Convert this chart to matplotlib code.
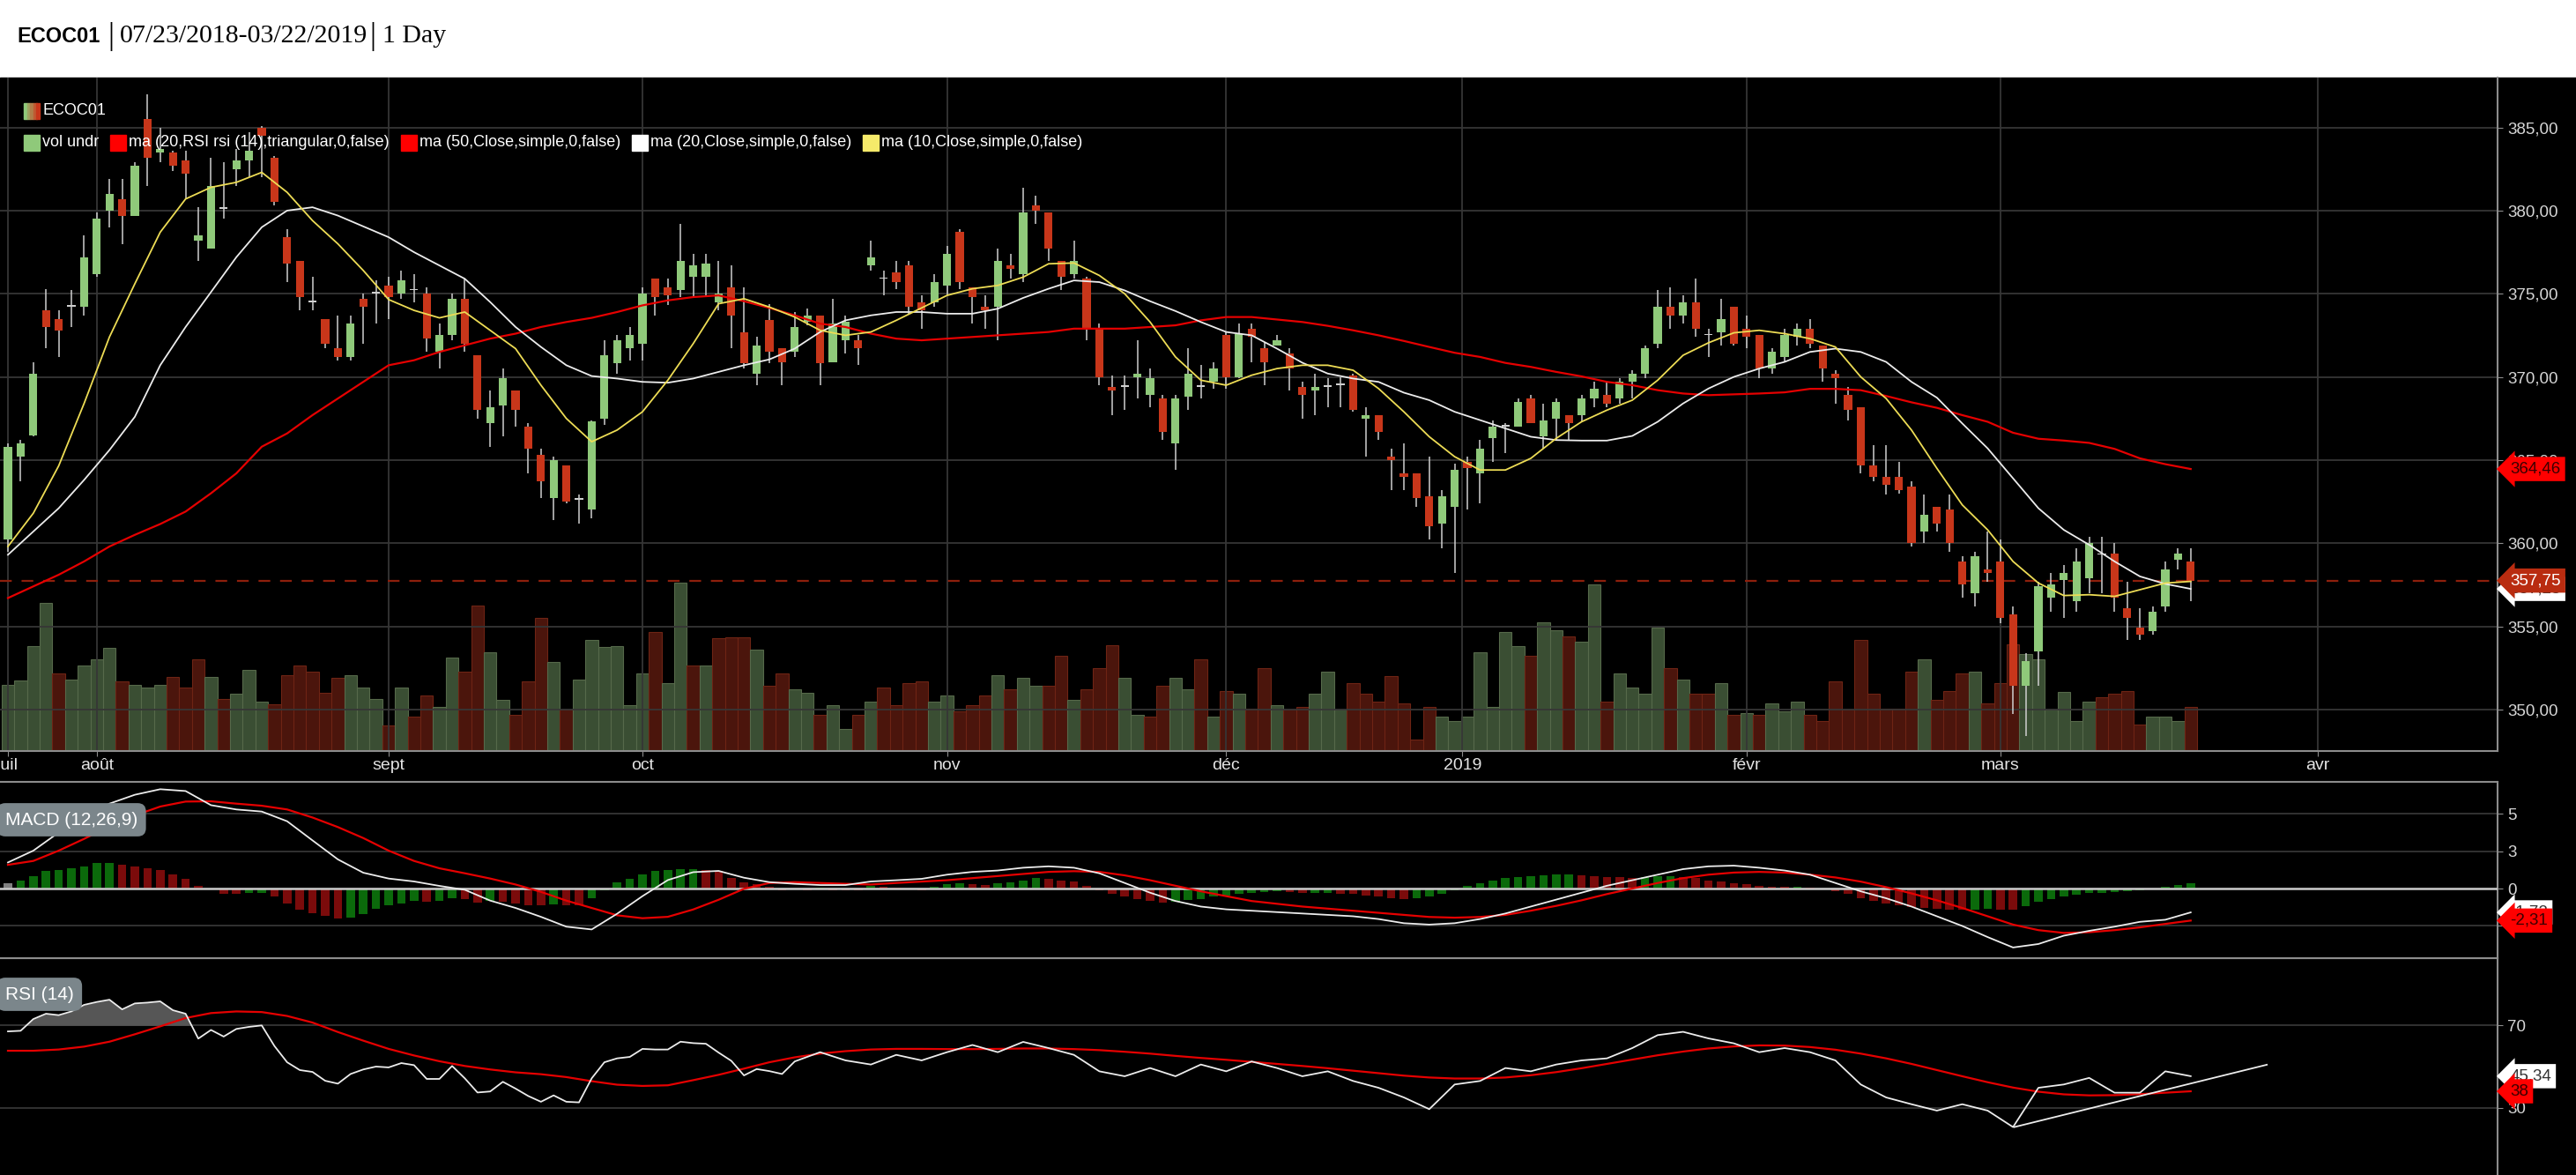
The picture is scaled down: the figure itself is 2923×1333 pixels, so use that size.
import numpy as np
import matplotlib.pyplot as plt
from matplotlib import font_manager
from matplotlib.patches import Rectangle
from matplotlib.transforms import blended_transform_factory

plt.rcParams['font.family'] = ['Liberation Sans', 'DejaVu Sans']

W, H = 2923, 1333

# daily candles, index 0 = 07/23/2018 ... 172 = 03/22/2019
opens = [360.2, 365.2, 366.5, 374.0, 373.5, 374.2, 374.2, 376.2, 380.0, 380.7,
         379.7, 385.5, 383.5, 383.5, 383.0, 378.2, 377.7, 380.1, 382.5, 383.0,
         385.0, 383.2, 378.4, 377.0, 374.5, 373.5, 371.7, 371.2, 374.7, 375.0,
         375.5, 375.0, 375.2, 375.0, 371.5, 372.5, 374.7, 371.3, 367.2, 368.3,
         369.2, 367.0, 365.3, 362.7, 364.7, 362.6, 362.0, 367.5, 370.8, 371.7,
         372.0, 375.9, 375.4, 375.2, 376.0, 376.0, 374.5, 375.4, 372.7, 370.2,
         373.4, 371.7, 371.5, 373.3, 373.7, 370.9, 372.2, 372.2, 376.7, 375.9,
         376.3, 376.7, 374.5, 374.5, 375.5, 378.7, 375.4, 374.2, 374.2, 376.7,
         376.2, 380.3, 379.9, 377.0, 376.2, 375.9, 372.9, 369.4, 369.4, 370.0,
         368.9, 368.7, 366.0, 368.8, 369.4, 369.7, 372.5, 370.0, 372.9, 371.7,
         371.9, 371.4, 369.4, 369.2, 369.4, 369.5, 370.1, 367.5, 367.7, 365.2,
         364.2, 364.2, 362.8, 361.2, 362.2, 364.9, 364.2, 366.3, 367.0, 367.0,
         368.7, 366.4, 367.5, 367.7, 367.7, 368.7, 368.9, 368.7, 369.7, 370.2,
         372.0, 374.2, 373.7, 374.5, 372.5, 372.7, 374.2, 372.9, 372.5, 370.5,
         371.2, 372.4, 372.9, 371.9, 370.2, 368.9, 368.2, 364.7, 364.0, 364.0,
         363.4, 360.7, 362.2, 362.0, 358.9, 357.0, 358.4, 358.9, 355.7, 351.4,
         353.5, 356.7, 357.8, 356.5, 357.9, 359.4, 359.4, 356.1, 354.9, 354.7,
         356.2, 359.0, 358.9]
highs = [366.0, 366.2, 370.9, 375.3, 374.0, 375.2, 378.5, 379.9, 381.9, 381.9,
         382.9, 387.0, 385.0, 383.6, 383.6, 380.2, 383.2, 382.9, 383.7, 384.7,
         385.1, 383.3, 378.9, 377.0, 376.0, 373.5, 373.7, 373.7, 375.0, 375.8,
         376.0, 376.4, 376.2, 375.4, 373.2, 375.0, 375.9, 371.3, 369.2, 370.5,
         369.2, 367.2, 365.7, 365.2, 364.7, 362.9, 367.4, 372.2, 372.5, 373.0,
         375.4, 375.9, 375.9, 379.2, 377.4, 377.4, 377.0, 376.7, 375.4, 372.4,
         374.4, 371.7, 373.9, 374.1, 373.7, 374.7, 373.7, 372.5, 378.2, 376.4,
         377.0, 377.0, 374.9, 376.2, 377.9, 378.9, 375.4, 374.9, 377.7, 377.4,
         381.4, 380.9, 379.9, 377.0, 378.2, 376.0, 373.2, 370.1, 370.1, 372.2,
         370.5, 368.9, 368.9, 371.7, 370.7, 370.9, 372.7, 373.2, 373.2, 372.1,
         372.5, 371.7, 369.7, 370.2, 369.9, 370.0, 370.2, 368.2, 367.7, 365.7,
         366.0, 364.2, 365.2, 363.2, 364.8, 365.2, 366.2, 367.4, 367.2, 368.7,
         368.9, 368.4, 368.7, 367.7, 368.9, 369.7, 369.7, 369.9, 370.4, 371.9,
         375.2, 375.4, 374.9, 375.9, 372.9, 374.7, 374.2, 373.7, 372.5, 371.7,
         372.9, 373.2, 373.5, 371.9, 370.4, 369.4, 368.2, 365.9, 365.9, 364.9,
         363.7, 362.9, 362.2, 362.9, 359.2, 359.5, 360.7, 360.2, 356.2, 353.4,
         357.7, 358.2, 358.7, 359.7, 360.4, 360.4, 360.0, 357.7, 356.1, 356.2,
         358.9, 359.7, 359.7]
lows = [359.5, 363.7, 366.4, 371.7, 371.2, 373.0, 373.7, 376.0, 379.0, 378.0,
        379.7, 381.5, 382.9, 382.4, 380.7, 377.0, 377.7, 379.5, 381.5, 382.0,
        382.0, 380.3, 375.7, 374.0, 374.0, 371.7, 371.0, 371.0, 372.0, 373.2,
        373.5, 374.7, 374.5, 371.5, 370.5, 372.2, 371.5, 367.5, 365.8, 366.4,
        367.0, 364.2, 362.7, 361.4, 362.4, 361.2, 361.5, 367.1, 370.2, 371.0,
        371.0, 373.7, 374.3, 374.8, 374.8, 374.8, 374.0, 371.7, 370.5, 369.5,
        370.8, 369.5, 371.2, 373.1, 369.5, 370.9, 371.4, 370.7, 376.4, 374.9,
        375.3, 373.8, 372.9, 374.2, 374.9, 375.3, 373.2, 372.9, 372.2, 375.9,
        375.7, 379.2, 377.0, 375.2, 375.9, 372.2, 369.5, 367.7, 368.0, 368.7,
        368.2, 366.2, 364.4, 368.0, 368.7, 369.3, 369.3, 369.9, 370.9, 369.5,
        371.9, 369.2, 367.5, 367.7, 368.2, 368.2, 367.9, 365.2, 366.2, 363.2,
        363.2, 362.2, 360.2, 359.7, 358.2, 362.0, 362.4, 364.9, 365.4, 367.0,
        367.2, 365.7, 366.2, 366.2, 367.3, 368.2, 368.2, 368.4, 368.7, 369.9,
        371.7, 372.9, 373.2, 372.4, 371.2, 371.9, 371.9, 371.7, 369.9, 370.2,
        370.9, 371.9, 371.7, 369.7, 368.4, 367.4, 364.2, 363.7, 362.9, 363.0,
        359.8, 360.0, 360.7, 359.5, 356.7, 356.2, 357.7, 355.2, 349.7, 348.4,
        351.4, 355.9, 355.5, 355.9, 357.0, 357.0, 355.9, 354.2, 354.2, 354.5,
        355.9, 358.4, 356.5]
closes = [365.8, 366.0, 370.2, 373.0, 372.8, 374.3, 377.2, 379.5, 381.0, 379.7,
          382.7, 383.2, 383.7, 382.7, 382.2, 378.5, 381.5, 380.2, 383.0, 383.6,
          384.5, 380.5, 376.8, 374.8, 374.6, 372.0, 371.2, 373.2, 374.2, 375.1,
          374.8, 375.8, 375.3, 372.3, 372.5, 374.7, 372.0, 368.0, 368.2, 369.9,
          368.0, 365.7, 363.7, 365.0, 362.5, 362.7, 367.3, 371.3, 372.2, 372.5,
          375.0, 374.8, 374.9, 377.0, 376.7, 376.8, 375.0, 373.7, 370.8, 371.9,
          371.5, 370.9, 373.0, 373.7, 370.8, 373.2, 373.3, 371.7, 377.2, 375.9,
          375.7, 374.2, 374.0, 375.7, 377.4, 375.7, 374.8, 374.0, 377.0, 376.5,
          379.9, 380.0, 377.7, 376.0, 377.0, 372.9, 370.0, 369.2, 369.4, 370.2,
          369.9, 366.7, 368.7, 370.2, 369.5, 370.5, 370.0, 372.6, 372.4, 370.9,
          372.2, 370.5, 368.9, 369.4, 369.5, 369.6, 368.0, 367.7, 366.7, 365.0,
          364.0, 362.7, 361.0, 362.8, 364.4, 364.5, 365.7, 367.0, 367.1, 368.5,
          367.2, 367.4, 368.5, 367.2, 368.7, 369.3, 368.4, 369.7, 370.2, 371.7,
          374.2, 373.7, 374.5, 372.9, 372.5, 373.5, 372.0, 372.4, 370.5, 371.5,
          372.5, 372.9, 372.0, 370.5, 369.9, 368.0, 364.7, 364.0, 363.5, 363.2,
          360.0, 361.7, 361.2, 360.0, 357.5, 359.2, 358.2, 355.5, 351.4, 352.9,
          357.4, 357.5, 358.2, 358.9, 360.0, 359.3, 356.7, 355.5, 354.5, 355.9,
          358.4, 359.4, 357.75]
volume = [75.3, 80.3, 118.7, 167.7, 88, 80.7, 97, 104.3, 116.7, 78.7,
          75.3, 71.7, 75.3, 84.3, 71.7, 104.3, 84.3, 59, 64.7, 92,
          55.7, 53.3, 86.3, 97, 89.7, 66.3, 83, 86.3, 71.7, 59,
          28.7, 71.7, 39.3, 62.7, 50, 106, 89.7, 165.3, 111.7, 57.7,
          41, 79, 151, 100.7, 46.7, 80.7, 126, 118.3, 118.7, 51.7,
          88, 134.7, 77, 191, 97, 97, 127.7, 129.3, 129.3, 115,
          73.7, 88, 70, 66.3, 41, 52, 25, 41, 55.7, 71.7,
          52, 77, 78.7, 55.7, 62.7, 44.7, 52, 62.7, 86.3, 70,
          82.7, 73.7, 73.7, 107.7, 57.7, 70, 93.7, 120.3, 82.7, 41,
          39.3, 73.7, 82.7, 70, 104.3, 39.3, 68.3, 64.7, 48.3, 93.7,
          52, 47, 50.3, 65.3, 90, 47, 77.3, 65, 56, 84.7,
          53.7, 12.7, 50.3, 39.3, 33.7, 39.3, 112, 50, 135, 118.7,
          108, 146, 136.7, 129.7, 124, 189.3, 56, 88.3, 72, 65,
          140.3, 93.7, 81, 65, 65, 77.3, 41, 43, 41, 54,
          44.7, 56, 41, 33.7, 79.3, 47, 126, 65, 48.3, 48.3,
          90, 104.3, 57.7, 68.3, 88.3, 90, 53.7, 77.3, 120.7, 109.7,
          104.3, 47, 66.7, 33.7, 56, 61.3, 65, 68.3, 30.3, 39.3,
          39.3, 34, 50.3]

# moving averages read every second session
ma_x = list(range(0, 173, 2))
ma10 = [359.8, 361.8, 364.65, 368.4, 372.4, 375.6, 378.7, 380.7, 381.4, 381.7, 382.3, 381.1,
        379.4, 378.0, 376.4, 374.65, 374.0, 373.55, 373.9, 372.8, 371.7, 369.5, 367.5, 366.1,
        366.8, 367.9, 369.8, 372.0, 374.4, 374.7, 374.2, 373.6, 372.8, 372.5, 372.7, 373.4,
        374.15, 374.9, 375.3, 375.5, 376.0, 376.8, 376.85, 376.1, 375.0, 373.3, 371.2, 369.8,
        369.5, 370.1, 370.5, 370.7, 370.7, 370.4, 369.3, 367.9, 366.4, 365.2, 364.4, 364.4,
        365.1, 366.3, 367.3, 368.0, 368.6, 369.8, 371.3, 372.05, 372.65, 372.8, 372.6, 372.3,
        371.8, 370.0, 368.7, 366.8, 364.5, 362.3, 360.8, 358.9, 357.6, 356.85, 356.9, 356.8,
        357.2, 357.6, 357.7]
ma20 = [359.3, 360.7, 362.1, 363.8, 365.6, 367.6, 370.7, 373.0, 375.1, 377.2, 379.0, 380.0,
        380.2, 379.7, 379.05, 378.4, 377.5, 376.7, 375.9, 374.5, 373.0, 371.8, 370.7, 370.05,
        369.9, 369.7, 369.65, 369.9, 370.3, 370.7, 371.05, 371.7, 372.7, 373.4, 373.7, 373.9,
        373.9, 373.8, 373.8, 374.1, 374.75, 375.3, 375.8, 375.7, 375.2, 374.55, 373.96, 373.3,
        372.7, 372.5, 371.7, 370.85, 370.2, 369.9, 369.7, 369.05, 368.6, 367.9, 367.4, 366.9,
        366.4, 366.2, 366.17, 366.17, 366.45, 367.3, 368.4, 369.3, 370.0, 370.5, 370.9, 371.5,
        371.7, 371.5, 370.9, 369.7, 368.75, 367.2, 365.7, 363.9, 362.1, 360.8, 359.9, 358.9,
        358.0, 357.55, 357.25]
ma50 = [356.7, 357.4, 358.1, 358.9, 359.8, 360.5, 361.15, 361.9, 363.0, 364.2, 365.8, 366.6,
        367.7, 368.7, 369.7, 370.7, 371.0, 371.5, 371.9, 372.3, 372.6, 373.0, 373.3, 373.55,
        373.9, 374.3, 374.6, 374.8, 374.9, 374.55, 374.15, 373.7, 373.2, 373.0, 372.6, 372.3,
        372.2, 372.3, 372.4, 372.5, 372.6, 372.7, 372.9, 372.9, 372.9, 373.0, 373.1, 373.4,
        373.6, 373.6, 373.45, 373.3, 373.07, 372.8, 372.5, 372.16, 371.8, 371.45, 371.2, 370.84,
        370.6, 370.3, 370.03, 369.7, 369.5, 369.2, 369.0, 368.9, 368.95, 369.0, 369.07, 369.28,
        369.28, 369.2, 368.85, 368.47, 368.14, 367.7, 367.3, 366.64, 366.28, 366.17, 366.03, 365.67,
        365.1, 364.75, 364.46]

# MACD (12,26,9)
macd_line = [1.88, 2.73, 4.04, 5.17, 6.12, 6.76, 7.16, 7.03, 6.01, 5.70, 5.55, 4.85,
             3.47, 2.1, 1.14, 0.72, 0.51, 0.19, -0.09, -0.87, -1.4, -2.04, -2.75, -2.95,
             -1.82, -0.55, 0.61, 1.18, 1.27, 0.78, 0.46, 0.34, 0.25, 0.25, 0.51,
             0.6, 0.7, 1.0, 1.2, 1.3, 1.5, 1.6, 1.5, 1.1, 0.4, -0.3, -0.9, -1.3, -1.5, -1.6, -1.7, -1.8,
             -1.9, -2.0, -2.2, -2.5, -2.6, -2.5, -2.2, -1.8, -1.3, -0.8, -0.3, 0.2, 0.6, 1.0, 1.4,
             1.6, 1.65, 1.5, 1.3, 1.0, 0.4, -0.2,
             -0.7, -1.3, -2.0, -2.7, -3.5, -4.25, -4.0, -3.4, -3.05, -2.75, -2.4, -2.25, -1.72]
macd_signal = [1.71, 1.99, 2.73, 3.58, 4.49, 5.27, 5.91, 6.27, 6.29, 6.12, 5.97, 5.70,
               5.12, 4.43, 3.64, 2.73, 1.99, 1.46, 1.1, 0.72, 0.29, -0.24, -0.87, -1.4,
               -1.93, -2.14, -2.04, -1.51, -0.81, -0.02, 0.4, 0.46, 0.4, 0.34, 0.29,
               0.4, 0.5, 0.6, 0.75, 0.9, 1.05, 1.2, 1.25, 1.2, 0.95, 0.6, 0.2, -0.2, -0.55, -0.9, -1.1, -1.3,
               -1.45, -1.6, -1.75, -1.9, -2.05, -2.1, -2.05, -1.9, -1.6, -1.25, -0.85, -0.4, 0.0, 0.4, 0.75,
               1.0, 1.15, 1.2, 1.15, 1.0, 0.8, 0.5,
               0.1, -0.35, -0.85, -1.4, -2.0, -2.6, -3.0, -3.2, -3.15, -3.0, -2.8, -2.55, -2.31]
macd_hist = [0.4, 0.57, 0.89, 1.27, 1.36, 1.48, 1.59, 1.82, 1.84, 1.69,
             1.57, 1.46, 1.36, 1.0, 0.68, 0.21, 0.02, -0.38, -0.4, -0.34,
             -0.33, -0.59, -1.06, -1.55, -1.76, -1.97, -2.18, -2.08, -1.86, -1.48,
             -1.23, -1.06, -0.91, -0.97, -0.91, -0.70, -0.76, -1.02, -0.91, -0.97,
             -1.06, -1.19, -1.22, -1.15, -1.18, -1.2, -0.70, -0.13, 0.42, 0.68,
             1.0, 1.27, 1.36, 1.37, 1.38, 1.31, 1.28, 0.78, 0.47, 0.3,
             0.1, -0.1, -0.07, -0.1, 0.05, -0.12, -0.13, -0.14, 0.2,
             0.15, 0.05, -0.05, -0.1,
             0.1, 0.3, 0.35, 0.3, 0.25, 0.35, 0.45,
             0.6, 0.75, 0.7, 0.6, 0.5, 0.2, -0.1,
             -0.4, -0.6, -0.75, -0.9, -1.0, -0.95,
             -0.85, -0.75, -0.6, -0.5, -0.4, -0.3, -0.25, -0.2,
             -0.25, -0.3, -0.3, -0.3, -0.35, -0.4, -0.5, -0.6,
             -0.7, -0.75, -0.7, -0.6, -0.4,
             -0.1, 0.2, 0.4, 0.6, 0.75, 0.85, 0.9, 0.95,
             1.0, 1.0, 0.95, 0.9, 0.85, 0.8, 0.75, 0.8,
             0.9, 0.9, 0.85, 0.75, 0.6, 0.5, 0.4, 0.3,
             0.2, 0.15, 0.1, 0.1, 0.05, -0.05, -0.2, -0.4,
             -0.7, -0.9, -1.1, -1.2, -1.35, -1.4, -1.45, -1.5,
             -1.55, -1.5, -1.45, -1.5, -1.55,
             -1.3, -0.95, -0.75, -0.6, -0.45, -0.3, -0.3, -0.25,
             -0.2, -0.15, -0.05, 0.1, 0.25, 0.4]

# RSI (14) and its triangular ma(20)
rsi_x = list(range(62)) + list(range(62, 173, 2))
rsi = [67.1, 67.4, 73.1, 75.7, 75.0, 76.8, 80.0, 81.4, 82.5, 77.8,
       80.7, 81.1, 81.7, 77.4, 75.7, 63.6, 67.8, 64.6, 68.3, 69.3,
       70.0, 60.0, 52.1, 48.3, 47.4, 43.1, 41.7, 46.4, 48.6, 50.0,
       49.6, 51.7, 50.7, 44.0, 44.0, 50.3, 44.3, 37.4, 37.9, 42.6,
       39.3, 35.7, 32.9, 36.0, 32.9, 32.6, 44.3, 52.1, 54.0, 54.7,
       58.6, 58.3, 58.3, 62.1, 61.4, 61.1, 56.8, 52.8, 45.7, 48.8,
       47.8, 46.4,
       52.5, 57, 53, 51, 55.7, 53, 57, 60.5, 57, 62, 59, 55.7, 47.7, 45.3,
       49.3, 45.3, 51, 47.7, 52.5, 49.3, 45.3, 47.7, 43, 39.7, 35, 29.3, 41.3, 43,
       49.3, 47.7, 51, 53, 54, 59, 65.3, 66.9, 63.7, 61.3, 57, 59, 57, 53,
       41.3, 35, 31.7, 28.6, 31.7, 28.6, 20.6, 39.7, 41.3, 44.5, 37.3, 37.3, 47.7, 45.34]
rsi_ma = [57.7, 57.7, 58.3, 59.7, 62.1, 65.7, 69.55, 73.6, 76.0, 76.8, 76.5, 74.6, 71.4, 66.8,
          62.6, 58.6, 55.4, 52.6, 50.3, 48.6, 47.2, 46.3, 44.9, 42.9, 41.2, 40.6, 40.9, 43.4,
          46.0, 49.0, 52.1,
          54.5, 56.3, 57.5, 58.3, 58.6, 58.6, 58.5, 58.5, 58.6, 58.8, 58.8, 58.5, 58.0, 57.2,
          56.3, 55.2, 54.2, 53.3, 52.3, 51.3, 50.3, 49.2, 48.0, 46.8, 45.6, 44.7, 44.2, 44.2,
          44.7, 45.8, 47.3, 49.2, 51.3, 53.4, 55.5, 57.3, 58.8, 59.8, 60.3, 60.2, 59.5, 58.2,
          56.3, 54.0, 51.3, 48.3, 45.3, 42.4, 39.8, 37.8, 36.5, 36.0, 36.1, 36.6, 37.3, 38.0]
rsi_trend_x = [158.1, 178.0]
rsi_trend_y = [20.6, 50.9]

month_pos = [0, 7, 30, 50, 74, 96, 114.6, 137, 157, 182]
month_lbl = ['juil', 'août', 'sept', 'oct', 'nov', 'déc', '2019', 'févr', 'mars', 'avr']

GREEN, RED, WICK = '#8fc97a', '#c8361a', '#cfcfcf'
GRID, SPINE, TXT = '#363636', '#8c8c8c', '#d6d6d6'

installed = {f.name for f in font_manager.fontManager.ttflist}
if 'Liberation Sans Narrow' in installed:
    LEG_FONT, LEG_SIZE = ['Liberation Sans Narrow', 'Liberation Sans'], 15.5
else:
    LEG_FONT, LEG_SIZE = ['Liberation Sans', 'DejaVu Sans'], 13


def rect(x0, y0, x1, y1):
    return [x0 / W, 1 - y1 / H, (x1 - x0) / W, (y1 - y0) / H]


def style(axis):
    axis.set_facecolor('none')
    for s in axis.spines.values():
        s.set_color(SPINE)
        s.set_linewidth(1.5)
    axis.spines['left'].set_visible(False)
    axis.yaxis.tick_right()
    axis.tick_params(axis='y', color=SPINE, labelcolor=TXT, labelsize=13.5, length=4, pad=4)
    axis.set_xlim(-9 / 14.4, (2834 - 9) / 14.4)


def tag(axis, y, text, fc, tc, z=10):
    tr = blended_transform_factory(axis.transAxes, axis.transData)
    axis.text(1.005, y, text, transform=tr, ha='left', va='center', fontsize=13.5, color=tc,
              bbox=dict(boxstyle='larrow,pad=0.28', fc=fc, ec='none'), clip_on=False, zorder=z)


fig = plt.figure(figsize=(W / 100, H / 100), dpi=100, facecolor='white')
fig.patches.append(Rectangle((0, 0), 1, 1 - 88 / H, transform=fig.transFigure,
                             color='black', zorder=-10))

# ---------------- price panel
ax_vol = fig.add_axes(rect(0, 88, 2834, 852), zorder=1)
ax = fig.add_axes(rect(0, 88, 2834, 852), zorder=2)

o, hi, lo, c = map(np.array, (opens, highs, lows, closes))
idx = np.arange(len(c))
vol = np.array(volume)
vol_up = np.r_[c[0] >= o[0], c[1:] >= c[:-1]]
ax_vol.bar(idx, vol, width=1.0, color=np.where(vol_up, '#3a4e33', '#4b150c'),
           edgecolor=np.where(vol_up, '#56694a', '#6e2414'), linewidth=0.8)
ax_vol.set_ylim(0, vol.max() * 4.0)
ax_vol.set_xlim(-9 / 14.4, (2834 - 9) / 14.4)
ax_vol.axis('off')

style(ax)
ax.spines['top'].set_visible(False)
ax.set_ylim(347.5, 388.0)
ax.set_yticks(np.arange(350, 386, 5))
ax.set_yticklabels([f'{v:.2f}'.replace('.', ',') for v in np.arange(350, 386, 5)])
ax.set_xticks(month_pos)
ax.set_xticklabels(month_lbl)
ax.tick_params(axis='x', color=SPINE, labelcolor='#e4e4e4', labelsize=14, length=4, pad=2)
ax.grid(True, color=GRID, lw=1.3)
ax.set_axisbelow(True)

ax.axhline(closes[-1], color='#8e1f0c', lw=1.6, ls=(0, (6, 5)), zorder=2)

doji = np.abs(c - o) < 0.12
body_col = np.where(doji, WICK, np.where(c >= o, GREEN, RED))
ax.vlines(idx, lo, hi, color=WICK, lw=1.1, zorder=3)
ax.bar(idx, np.maximum(np.abs(c - o), 0.08), bottom=np.minimum(o, c), width=0.64,
       color=body_col, linewidth=0, zorder=4)

ax.plot(ma_x, ma50, color='#e50000', lw=1.6, zorder=5)
ax.plot(ma_x, ma20, color='#ececec', lw=1.3, zorder=5)
ax.plot(ma_x, ma10, color='#eddc55', lw=1.3, zorder=5)

tag(ax, ma50[-1], f'{ma50[-1]:.2f}'.replace('.', ','), '#ff0000', '#3a0000')
tag(ax, ma20[-1], f'{ma20[-1]:.2f}'.replace('.', ','), 'white', '#333333', z=11)
tag(ax, closes[-1], f'{closes[-1]:.2f}'.replace('.', ','), '#b92c10', 'white', z=12)

# legend
renderer = fig.canvas.get_renderer()


def legend_row(items, y, x=27):
    for face, label in items:
        if face == 'grad':
            for k, col in enumerate(['#8fc97a', '#9fa462', '#af7f4a', '#bf5a32', '#c8361a']):
                fig.patches.append(Rectangle(((x + k * 3.6) / W, 1 - (y + 9) / H), 3.7 / W, 18 / H,
                                             transform=fig.transFigure, color=col, zorder=5))
        else:
            fig.patches.append(Rectangle((x / W, 1 - (y + 9) / H), 18 / W, 18 / H,
                                         transform=fig.transFigure, color=face, zorder=5))
        t = fig.text((x + 21) / W, 1 - y / H, label, color='white', fontsize=LEG_SIZE,
                     family=LEG_FONT, va='center', ha='left', zorder=6)
        x = t.get_window_extent(renderer).x1 + 13


legend_row([('grad', 'ECOC01')], 126)
legend_row([('#8fc97a', 'vol undr'), ('#ff0000', 'ma (20,RSI rsi (14),triangular,0,false)'),
            ('#ff0000', 'ma (50,Close,simple,0,false)'), ('white', 'ma (20,Close,simple,0,false)'),
            ('#f5ea6a', 'ma (10,Close,simple,0,false)')], 162)

# ---------------- MACD panel
axm = fig.add_axes(rect(0, 887, 2834, 1087), zorder=2)
style(axm)
axm.set_ylim(-5.02, 7.69)
axm.set_xticks([])
mticks = [5.4, 2.7, 0, -2.7]
axm.set_yticks(mticks)
axm.set_yticklabels([f'{round(v):d}' for v in mticks])
axm.grid(True, axis='y', color=GRID, lw=1.3)
axm.axhline(0, color='#c9c9c9', lw=1.8, zorder=3)
hist = np.array(macd_hist)
hcol = np.r_[['#808080'], np.where(np.diff(hist) >= 0, '#0b6a0b', '#7b0b0b')]
axm.bar(idx, hist, width=0.68, color=hcol, linewidth=0, zorder=2)
axm.plot(ma_x, macd_signal, color='#e50000', lw=1.6, zorder=4)
axm.plot(ma_x, macd_line, color='#ececec', lw=1.3, zorder=5)
tag(axm, macd_line[-1], f'{macd_line[-1]:.2f}'.replace('.', ','), 'white', '#333333')
tag(axm, macd_signal[-1], f'{macd_signal[-1]:.2f}'.replace('.', ','), '#ff0000', '#3a0000', z=11)
fig.text(6 / W, 1 - 930 / H, 'MACD (12,26,9)', color='white', fontsize=15, va='center',
         family=LEG_FONT, bbox=dict(boxstyle='round,pad=0.45', fc='#7b868b', ec='none'), zorder=6)

# ---------------- RSI panel
axr = fig.add_axes(rect(0, 1087, 2834, 1333), zorder=2)
style(axr)
axr.spines['bottom'].set_visible(False)
axr.set_ylim(-2.7, 102.7)
axr.set_xticks([])
axr.set_yticks([70, 30])
axr.grid(True, axis='y', color=GRID, lw=1.3)
r = np.array(rsi)
axr.fill_between(rsi_x, 70, r, where=r > 70, interpolate=True, color='#565656', lw=0, zorder=2)
axr.plot(ma_x, rsi_ma, color='#e50000', lw=1.6, zorder=4)
axr.plot(rsi_x, rsi, color='#ececec', lw=1.3, zorder=5)
axr.plot(rsi_trend_x, rsi_trend_y, color='#ececec', lw=1.3, zorder=5, clip_on=False)
tag(axr, rsi[-1], f'{rsi[-1]:.2f}'.replace('.', ','), 'white', '#333333')
tag(axr, rsi_ma[-1], f'{rsi_ma[-1]:.0f}', '#ff0000', '#3a0000', z=11)
fig.text(6 / W, 1 - 1128 / H, 'RSI (14)', color='white', fontsize=15, va='center',
         family=LEG_FONT, bbox=dict(boxstyle='round,pad=0.45', fc='#7b868b', ec='none'), zorder=6)

# ---------------- title
fig.text(19 / W, 1 - 41 / H, 'ECOC01', fontsize=17, fontweight='bold', color='black', va='center')
serif = ['Liberation Serif', 'DejaVu Serif']
fig.text(122 / W, 1 - 41 / H, '|', fontsize=25, family=serif, color='black', va='center')
fig.text(136 / W, 1 - 41 / H, '07/23/2018-03/22/2019', fontsize=21.5, family=serif,
         color='black', va='center')
fig.text(419 / W, 1 - 41 / H, '|', fontsize=25, family=serif, color='black', va='center')
fig.text(434 / W, 1 - 41 / H, '1 Day', fontsize=21.5, family=serif, color='black', va='center')

fig.savefig('out.png', dpi=100, facecolor='white')
